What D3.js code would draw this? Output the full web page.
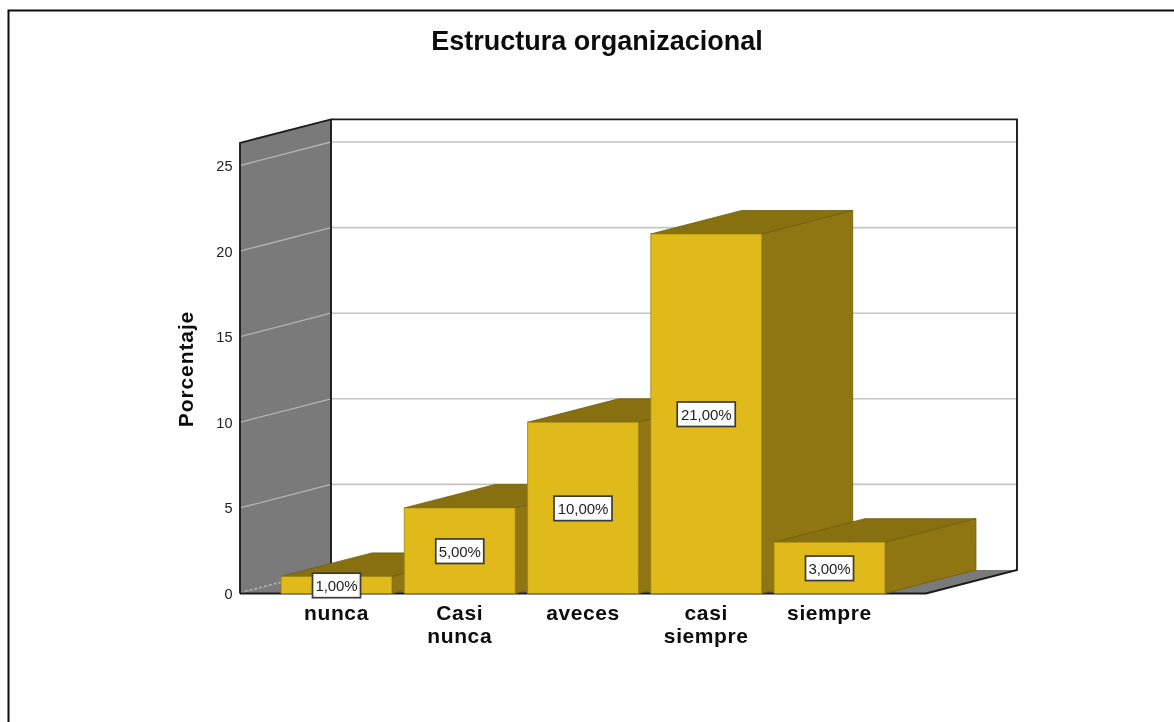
<!DOCTYPE html>
<html><head><meta charset="utf-8">
<script src="https://cdn.jsdelivr.net/npm/d3@7/dist/d3.min.js"></script>
<style>html,body{margin:0;padding:0;background:#fff}svg{display:block;filter:blur(0.35px)}text{font-family:"Liberation Sans",Arial,sans-serif}</style>
</head><body><svg id="c" width="1174" height="722"></svg>
<script>
const categories = [["nunca"],["Casi","nunca"],["aveces"],["casi","siempre"],["siempre"]];
const values = [1,5,10,21,3];
const labels = ["1,00%","5,00%","10,00%","21,00%","3,00%"];
const ticks = [0,5,10,15,20,25];
const title = "Estructura organizacional";
const yTitle = "Porcentaje";

const svg = d3.select("#c");
const X0=240, X1=926, DX=91, DY=-23.5;
const x = d3.scaleBand().domain(d3.range(values.length)).range([X0,X1]).paddingInner(0.1).paddingOuter(0.333);
const y = d3.scaleLinear().domain([0,25]).range([593.5,165.5]);
const yTop = y(26.32);
const y0 = y(0);
const poly=(pts,fill,stroke,sw)=>svg.append("polygon").attr("points",pts.map(p=>p.join(",")).join(" ")).attr("fill",fill).attr("stroke",stroke||"none").attr("stroke-width",sw||0).attr("stroke-linejoin","miter");

// frame
svg.append("path").attr("d","M8.5,722V10.5H1174").attr("fill","none").attr("stroke","#0c0c0c").attr("stroke-width",2);

// walls and floor
poly([[X0+DX,yTop+DY],[X1+DX,yTop+DY],[X1+DX,y0+DY],[X0+DX,y0+DY]],"#fff");
poly([[X0,yTop],[X0+DX,yTop+DY],[X0+DX,y0+DY],[X0,y0]],"#7a7a7a");
poly([[X0,y0],[X0+DX,y0+DY],[X1+DX,y0+DY],[X1,y0]],"#7a7a7a");

// gridlines
ticks.slice(1).forEach(t=>{
  svg.append("line").attr("x1",X0+DX).attr("x2",X1+DX).attr("y1",y(t)+DY).attr("y2",y(t)+DY).attr("stroke","#c4c4c4").attr("stroke-width",1.6);
  svg.append("line").attr("x1",X0).attr("x2",X0+DX).attr("y1",y(t)).attr("y2",y(t)+DY).attr("stroke","#b4b4b4").attr("stroke-width",1.3);
});
svg.append("line").attr("x1",X0).attr("x2",X0+DX).attr("y1",y0-1).attr("y2",y0+DY-1).attr("stroke","#b4b4b4").attr("stroke-width",1.3).attr("stroke-dasharray","2.5 2.5");

// wall outlines
svg.append("path").attr("d",`M${X0},${y0}V${yTop}L${X0+DX},${yTop+DY}V${y0+DY}M${X0+DX},${yTop+DY}H${X1+DX}V${y0+DY}L${X1},${y0}H${X0}`)
  .attr("fill","none").attr("stroke","#1c1c1c").attr("stroke-width",1.9);

// y tick labels
svg.selectAll("text.tick").data(ticks).join("text").attr("class","tick")
  .attr("x",X0-7.5).attr("y",d=>y(d)+5.5).attr("text-anchor","end").attr("font-size",14.5).attr("fill","#222").text(d=>d);

// bars
const gold="#e0b91b", side="#8f7612", topc="#86700f", edge="#6f5d0c";
values.forEach((v,i)=>{
  const l=x(i), r=l+x.bandwidth(), t=y(v);
  poly([[r,t],[r+DX,t+DY],[r+DX,y0+DY],[r,y0]],side,edge,0.8);
  poly([[l,t],[l+DX,t+DY],[r+DX,t+DY],[r,t]],topc,edge,0.8);
  poly([[l,t],[r,t],[r,y0],[l,y0]],gold,"#9c8414",0.8);
});

// data labels
values.forEach((v,i)=>{
  const cx=x(i)+x.bandwidth()/2, cy=(y(v)+y0)/2+0.5, w=labels[i].length>5?58:48, h=24.5;
  svg.append("rect").attr("x",cx-w/2).attr("y",cy-h/2).attr("width",w).attr("height",h).attr("fill","#fff").attr("stroke","#3a3a3a").attr("stroke-width",1.7);
  svg.append("text").attr("x",cx).attr("y",cy+5.5).attr("text-anchor","middle").attr("font-size",15).attr("letter-spacing",-0.1).attr("fill","#222").text(labels[i]);
});

// category labels
categories.forEach((c,i)=>{
  c.forEach((s,k)=>svg.append("text").attr("x",x(i)+x.bandwidth()/2).attr("y",620+k*23).attr("text-anchor","middle")
    .attr("font-size",21).attr("letter-spacing",0.6).attr("font-weight","bold").attr("fill","#0c0c0c").text(s));
});

// titles
svg.append("text").attr("x",597).attr("y",49.5).attr("text-anchor","middle").attr("font-size",27).attr("font-weight","bold").attr("fill","#0c0c0c").text(title);
svg.append("text").attr("transform","translate(192.5,369) rotate(-90)").attr("text-anchor","middle").attr("font-size",21).attr("letter-spacing",0.9).attr("font-weight","bold").attr("fill","#0c0c0c").text(yTitle);
</script></body></html>
